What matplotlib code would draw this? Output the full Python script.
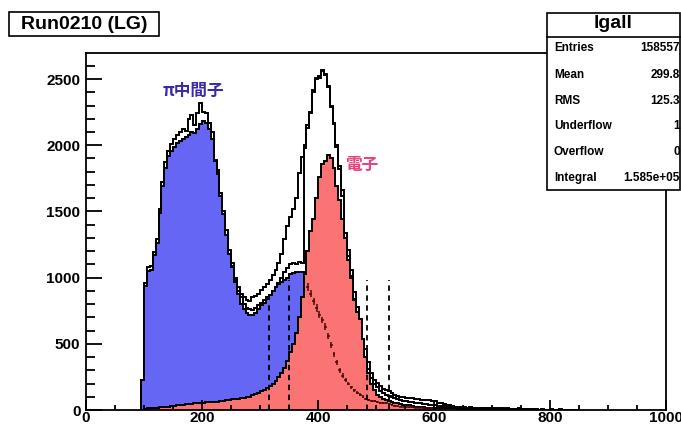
import numpy as np
import matplotlib
matplotlib.use("Agg")
import matplotlib.pyplot as plt
from matplotlib.patches import Rectangle
from matplotlib.lines import Line2D
from matplotlib.ticker import MultipleLocator

plt.rcParams['font.family'] = ['Liberation Sans', 'DejaVu Sans']

# ---------------- data ----------------
bin_width = 5
total_start = 95
total_counts = [
    230, 960, 1080, 1090, 1190, 1290, 1520, 1720, 1870, 1960,
    2010, 2050, 2080, 2100, 2120, 2110, 2200, 2230, 2150, 2240,
    2320, 2250, 2240, 2170, 2100, 1890, 1810, 1640, 1500, 1360,
    1210, 1110, 1000, 930, 880, 850, 830, 820, 850, 860,
    880, 910, 930, 950, 980, 1020, 1060, 1110, 1180, 1290,
    1390, 1460, 1520, 1600, 1790, 1910, 2000, 2150, 2250, 2420,
    2510, 2520, 2570, 2540, 2450, 2300, 2170, 2000, 1840, 1660,
    1340, 1210, 1060, 890, 780, 630, 540, 460, 360, 280,
    230, 205, 185, 160, 150, 140, 125, 115, 105, 100,
    95, 92, 90, 88, 85, 80, 78, 76, 74, 72,
    70, 65, 55, 50, 45, 40, 38, 30, 25, 25,
    22, 20, 18, 20, 17, 16, 18, 15, 16, 14,
    15, 14, 12, 13, 12, 11, 12, 10, 11, 10,
    12, 9, 10, 5, 4, 5, 4, 3, 4, 3,
    3, 4, 2, 3, 5, 2, 3, 2, 2, 3, 2,
]

inner_start = 250
inner_counts = [
    1090, 980, 900, 850, 800, 770, 760, 755, 770, 790,
    810, 830, 850, 870, 890, 920, 960, 1000, 1040, 1070,
    1100, 1110, 1100, 1120, 1110, 1980, 2130, 2240, 2400, 2500,
    2510, 2560, 2530, 2440, 2290, 2160, 1990, 1820, 1620, 1300,
    1160, 1010, 840, 740, 600, 480, 400, 310, 240, 200,
    170, 145, 130, 115, 105, 95, 88, 80, 75, 70,
    65, 62, 60, 55, 52, 50, 46, 44, 40, 38,
    36, 33, 30, 27, 25, 23, 20, 18, 18, 16,
    15, 14, 15, 13, 12, 14, 12, 12, 11, 12,
    11, 10, 10, 9, 9, 10, 8, 9, 8, 9,
    7, 8, 4, 3, 4, 3, 2, 3, 2, 2,
    3, 2, 2, 4, 1, 2, 2, 1, 2, 1,
]

pion_start = 95
pion_counts = [
    230, 940, 1050, 1060, 1170, 1260, 1490, 1690, 1830, 1920,
    1960, 1990, 2020, 2030, 2050, 2060, 2080, 2100, 2090, 2120,
    2160, 2180, 2170, 2120, 2050, 1880, 1780, 1620, 1480, 1320,
    1180, 1080, 970, 880, 800, 760, 730, 720, 718, 730,
    760, 790, 810, 840, 870, 900, 930, 950, 970, 985,
    1000, 1030, 1035, 1040, 1040, 1045,
]

electron_start = 100
electron_counts = [
    10, 12, 15, 15, 18, 20, 22, 25, 25, 28,
    30, 35, 38, 40, 42, 45, 48, 50, 52, 55,
    55, 58, 60, 62, 60, 62, 65, 70, 75, 78,
    80, 82, 85, 90, 92, 96, 100, 110, 118, 125,
    140, 150, 165, 185, 200, 220, 250, 280, 320, 370,
    440, 500, 580, 700, 850, 1030, 1200, 1350, 1440, 1600,
    1760, 1860, 1880, 1930, 1900, 1830, 1690, 1590, 1440, 1300,
    1130, 1000, 830, 740, 690, 540, 400, 280, 200, 150,
    110, 95, 85, 75, 65, 60, 55, 50, 45, 40,
    38, 35, 30, 25, 23, 20, 20, 18, 18, 15,
    15, 15, 14, 14, 13, 12, 12, 12, 11, 10,
    10, 9, 10, 9, 8, 9, 8, 8, 7, 8,
    7, 7, 6, 7, 6, 6, 5, 6, 5, 5,
    5, 4, 4, 3, 3, 3, 2, 2, 2, 2,
    2, 2, 1, 1, 1, 1, 1, 1, 1, 1,
]

marker_start = 380
marker_counts = [
    930, 880, 820, 770, 720, 680, 630, 560, 490, 420,
    360, 300, 260, 230, 200, 170, 150, 130, 115, 100,
    85, 76, 70, 65, 60, 55, 53, 50, 48, 40,
    30, 28, 25, 24, 22, 20, 20, 18, 18, 16,
    15, 15, 14, 12,
]

cut_positions = [315, 350, 485, 523]
cut_heights = [810, 980, 980, 980]

title_text = "Run0210 (LG)"
stats_name = "lgall"
stats_labels = ["Entries", "Mean", "RMS", "Underflow", "Overflow", "Integral"]
stats_values = ["158557", "299.8", "125.3", "1", "0", "1.585e+05"]

pion_label = "π中間子"
electron_label = "電子"

x_range = (0, 1000)
y_max = 2697


def edges(start, n):
    return start + bin_width * np.arange(n + 1)


# ---------------- figure ----------------
W, H = 681, 425
fig = plt.figure(figsize=(W / 100, H / 100), dpi=100)
ax_l, ax_r, ax_b, ax_t = 86, 666, 410, 53
ax = fig.add_axes([ax_l / W, 1 - ax_b / H, (ax_r - ax_l) / W, (ax_b - ax_t) / H])

lw = 1.4
# total histogram (white fill, black outline)
e_tot = edges(total_start, len(total_counts))
ax.stairs(total_counts, e_tot, fill=True, color='white', zorder=1.0)
ax.stairs(total_counts, e_tot, color='black', lw=lw, zorder=1.1)
# inner outline
e_in = edges(inner_start, len(inner_counts))
ax.stairs(inner_counts, e_in, color='black', lw=lw, zorder=1.2)
# pion (blue)
e_pi = edges(pion_start, len(pion_counts))
ax.stairs(pion_counts, e_pi, fill=True, color='#6666f4', zorder=1.3)
ax.stairs(pion_counts, e_pi, color='black', lw=lw, zorder=1.35)
# electron (red)
e_el = edges(electron_start, len(electron_counts))
ax.stairs(electron_counts, e_el, fill=True, color='#fb7474', zorder=1.4)
ax.stairs(electron_counts, e_el, color='black', lw=lw, zorder=1.45)

# marker histogram with error bars
mc = np.array(marker_counts, dtype=float)
mx = marker_start + bin_width * (np.arange(len(mc)) + 0.5)
ax.errorbar(mx, mc, xerr=bin_width / 2, yerr=np.sqrt(mc), fmt='none',
            ecolor='#4a0808', elinewidth=1.1, capsize=0, zorder=1.6)

# dashed cut lines
for xc, hc in zip(cut_positions, cut_heights):
    ax.plot([xc, xc], [0, hc], color='black', lw=1.3, ls=(0, (3, 2.5)), zorder=1.7)

ax.text(186, 2410, pion_label, family=['Noto Sans CJK JP', 'DejaVu Sans'],
        fontsize=12, fontweight='bold', color='#3a2aa8', ha='center', va='center')
ax.text(475, 1850, electron_label, family=['Noto Sans CJK JP', 'DejaVu Sans'],
        fontsize=12, fontweight='bold', color='#e8437f', ha='center', va='center')

ax.set_xlim(*x_range)
ax.set_ylim(0, y_max)
ax.xaxis.set_major_locator(MultipleLocator(200))
ax.xaxis.set_minor_locator(MultipleLocator(50))
ax.yaxis.set_major_locator(MultipleLocator(500))
ax.yaxis.set_minor_locator(MultipleLocator(100))
ax.tick_params(axis='x', which='major', direction='in', length=7, width=1.3,
               labelsize=11, pad=1, top=False)
ax.tick_params(axis='x', which='minor', direction='in', length=3.5, width=1.3, top=False)
ax.tick_params(axis='y', which='major', direction='in', length=11.5, width=1.3,
               labelsize=11, pad=4, right=False)
ax.tick_params(axis='y', which='minor', direction='in', length=6.5, width=1.3, right=False)
for lab in ax.get_xticklabels() + ax.get_yticklabels():
    lab.set_fontweight('bold')
for s in ax.spines.values():
    s.set_linewidth(1.3)
    s.set_zorder(3)
ax.set_axisbelow(False)

# title box
def px_rect(x0, y0, x1, y1, **kw):
    return Rectangle((x0 / W, 1 - y1 / H), (x1 - x0) / W, (y1 - y0) / H,
                     transform=fig.transFigure, **kw)

fig.patches.append(px_rect(9, 12, 159, 36, facecolor='white', edgecolor='black', lw=1.2))
fig.text(84 / W, 1 - 24.5 / H, title_text, ha='center', va='center',
         fontsize=14, fontweight='bold')

# stats box
fig.patches.append(px_rect(547, 13, 680, 190, facecolor='white', edgecolor='black',
                           lw=1.2, zorder=5))
fig.lines.append(Line2D([547 / W, 680 / W], [1 - 37 / H, 1 - 37 / H],
                        transform=fig.transFigure, color='black', lw=1.2, zorder=6))
fig.text(613 / W, 1 - 24 / H, stats_name, ha='center', va='center',
         fontsize=14, fontweight='bold', zorder=7)
row_y = [48, 75, 101, 126, 152, 178]
for yy, lab, val in zip(row_y, stats_labels, stats_values):
    fig.text(554 / W, 1 - yy / H, lab, ha='left', va='center', fontsize=8.5,
             fontweight='bold', zorder=7)
    fig.text(680 / W, 1 - yy / H, val, ha='right', va='center', fontsize=8.5,
             fontweight='bold', zorder=7)

fig.savefig("out.png", dpi=100)
